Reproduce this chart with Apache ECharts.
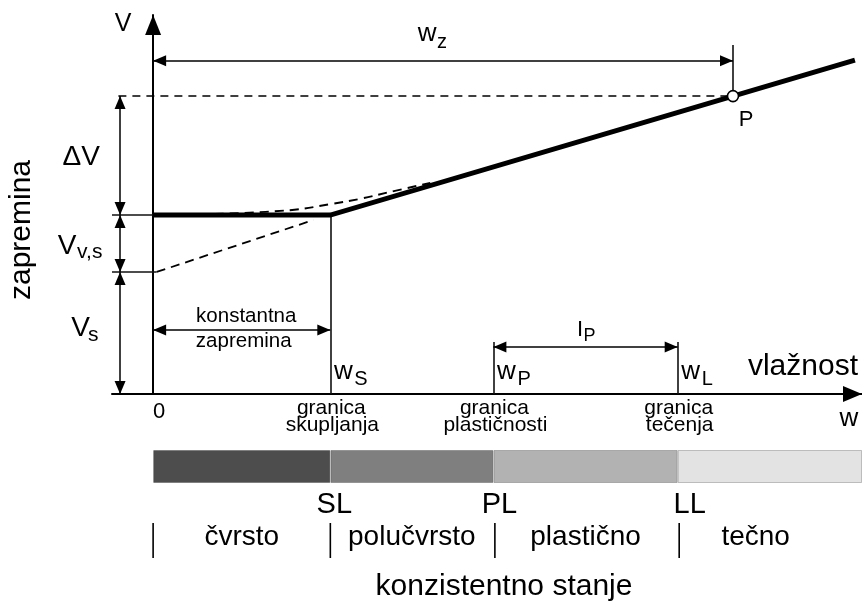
<!DOCTYPE html>
<html>
<head>
<meta charset="utf-8">
<script src="https://cdn.jsdelivr.net/npm/echarts@6/dist/echarts.min.js"></script>
<style>
html, body { margin: 0; padding: 0; background: #fff; }
#chart { width: 862px; height: 609px; }
</style>
</head>
<body>
<div id="chart"></div>
<script>
// water content limits on the w axis (% units)
const limitW = [25, 48, 74];            // w_S, w_P, w_L
const limitSub = ['S', 'P', 'L'];
const limitCodes = ['SL', 'PL', 'LL'];
const limitNames = [['granica', 'skupljanja'], ['granica', 'plastičnosti'], ['granica', 'tečenja']];
const zoneNames = ['čvrsto', 'polučvrsto', 'plastično', 'tečno'];
const zoneColors = ['#4d4d4d', '#7f7f7f', '#b2b2b2', '#e3e3e3'];
const wZ = 81.8;        // w_z, water content at point P
const wMin = -5.8;
const wMax = 100;

// volumes
const volSolid = 32.2;  // V_s
const volVoid = 15.0;   // V_v,s
const volDelta = 31.4;  // ΔV

// end of the straight shrinkage line
const lineEndW = 99;
const lineEndV = 88.1;
// rounded (real) curve near w_S, dashed
const roundW = [8.7, 19.3, 25, 29.2, 33.4, 39.1];
const roundV = [47.5, 48.5, 50.1, 51.5, 53.3, 55.7];
// back extension of the straight part, dashed
const extW = [0.5, 22.6];
const extV = [volSolid, 45.9];

const FONT = '"Liberation Sans", Arial, sans-serif';
const vC = volSolid + volVoid;
const vP = vC + volDelta;

let chart = echarts.init(document.getElementById('chart'));

const hidden = { show: false };
function thin(a, b) { return [{ coord: a }, { coord: b }]; }

let option = {
    animation: false,
    grid: [
        { left: 112, right: 0, top: 15, bottom: 215 },
        { left: 112, right: 0, top: 450, height: 33 }
    ],
    xAxis: [
        {
            gridIndex: 0, type: 'value', min: wMin, max: wMax,
            axisLine: {
                show: true, onZero: true,
                symbol: ['none', 'triangle'], symbolSize: [16, 19], symbolOffset: [0, -9.5],
                lineStyle: { color: '#000', width: 2 }
            },
            axisTick: hidden, axisLabel: hidden, splitLine: hidden
        },
        { gridIndex: 1, type: 'value', min: wMin, max: wMax, show: false }
    ],
    yAxis: [
        {
            gridIndex: 0, type: 'value', min: 0, max: 100,
            axisLine: {
                show: true, onZero: true,
                symbol: ['none', 'triangle'], symbolSize: [16, 20], symbolOffset: [0, -10],
                lineStyle: { color: '#000', width: 2 }
            },
            axisTick: hidden, axisLabel: hidden, splitLine: hidden
        },
        { gridIndex: 1, type: 'category', data: ['stanje'], show: false }
    ],
    series: [
        {
            name: 'kriva', type: 'line', silent: true, clip: false, z: 5,
            data: [[0, vC], [limitW[0], vC], [lineEndW, lineEndV]],
            symbol: 'none',
            lineStyle: { color: '#000', width: 5, join: 'miter' }
        },
        {
            name: 'zaobljeno', type: 'line', silent: true, z: 4, smooth: 0.4,
            data: roundW.map((w, i) => [w, roundV[i]]),
            symbol: 'none',
            lineStyle: { color: '#000', width: 1.9, type: [9, 6] }
        },
        {
            name: 'produzetak', type: 'line', silent: true, z: 4,
            data: extW.map((w, i) => [w, extV[i]]),
            symbol: 'none',
            lineStyle: { color: '#000', width: 1.8, type: [9, 6] }
        },
        {
            name: 'pomocne', type: 'scatter', silent: true, clip: false,
            data: [], symbolSize: 0,
            markLine: {
                silent: true, symbol: ['none', 'none'], label: hidden,
                lineStyle: { color: '#111', width: 1.6, type: 'solid' },
                data: [
                    thin([limitW[0], 0], [limitW[0], vC]),
                    thin([limitW[1], 0], [limitW[1], 13.7]),
                    thin([limitW[2], 0], [limitW[2], 13.7]),
                    thin([wZ, vP], [wZ, 92.1]),
                    thin([wMin, vC], [0, vC]),
                    thin([wMin, volSolid], [0.5, volSolid])
                ]
            }
        },
        {
            name: 'isprekidana', type: 'scatter', silent: true, clip: false,
            data: [], symbolSize: 0,
            markLine: {
                silent: true, symbol: ['none', 'none'], label: hidden,
                lineStyle: { color: '#000', width: 1.5, type: [8, 6] },
                data: [thin([-4.9, vP], [wZ, vP])]
            }
        },
        {
            name: 'kote', type: 'scatter', silent: true, clip: false,
            data: [], symbolSize: 0,
            markLine: {
                silent: true, label: hidden,
                symbol: ['triangle', 'triangle'], symbolSize: [11, 13],
                symbolOffset: [[0, 6.5], [0, 6.5]],
                lineStyle: { color: '#000', width: 1.5, type: 'solid' },
                itemStyle: { color: '#000' },
                data: [
                    thin([0, 87.9], [wZ, 87.9]),
                    thin([-4.66, vC], [-4.66, vP]),
                    thin([-4.66, volSolid], [-4.66, vC]),
                    thin([-4.66, 0], [-4.66, volSolid]),
                    thin([0, 16.9], [limitW[0], 16.9]),
                    thin([limitW[1], 12.4], [limitW[2], 12.4])
                ]
            }
        },
        {
            name: 'P', type: 'scatter', silent: true, z: 10,
            data: [[wZ, vP]],
            symbol: 'circle', symbolSize: 11,
            itemStyle: { color: '#fff', borderColor: '#000', borderWidth: 1.6, opacity: 1 }
        }
    ]
};

// consistency bar: one stacked segment per state
const zoneEdges = [0].concat(limitW, [wMax]);
zoneNames.forEach(function (name, i) {
    option.series.push({
        name: name, type: 'bar', silent: true, stack: 'stanje',
        xAxisIndex: 1, yAxisIndex: 1,
        barWidth: '100%',
        data: [zoneEdges[i + 1] - zoneEdges[i]],
        itemStyle: { color: zoneColors[i], borderColor: 'rgba(0,0,0,0.22)', borderWidth: 1 }
    });
});

chart.setOption(option);

// texts, placed from the data positions
function t(text, x, y, size, align, rot) {
    return {
        type: 'text', x: x, y: y, rotation: rot || 0, silent: true, z: 20,
        style: {
            text: text, fill: '#000', fontSize: size, fontFamily: FONT,
            align: align || 'center', verticalAlign: 'middle',
            textAlign: align || 'center', textVerticalAlign: 'middle'
        }
    };
}
function ln(x1, y1, x2, y2) {
    return { type: 'line', silent: true, z: 20, shape: { x1: x1, y1: y1, x2: x2, y2: y2 }, style: { stroke: '#000', lineWidth: 1.6 } };
}
const px = (x, y) => chart.convertToPixel({ gridIndex: 0 }, [x, y]);

const O = px(0, 0);
const topY = px(0, 100)[1];
const yC = px(0, vC)[1], yS = px(0, volSolid)[1], yP = px(0, vP)[1];
let g = [];
g.push(t('V', O[0] - 30, topY + 9, 25));
g.push(t('ΔV', O[0] - 72, (yC + yP) / 2 + 1.5, 28));
const mVv = (yS + yC) / 2;
g.push(t('V', O[0] - 86, mVv + 3, 28));
g.push(t('v,s', O[0] - 76, mVv + 9, 21, 'left'));
const mVs = (O[1] + yS) / 2;
g.push(t('V', O[0] - 72.5, mVs - 5, 28));
g.push(t('s', O[0] - 65, mVs + 2.5, 21, 'left'));
g.push(t('zapremina', 21.5, O[1] - 164, 30, 'center', Math.PI / 2));

// w_z
const pz = px(wZ, 87.9);
const midZ = (O[0] + pz[0]) / 2;
g.push(t('w', midZ - 16, pz[1] - 27, 26));
g.push(t('z', midZ - 6, pz[1] - 18, 20, 'left'));
// P
const pP = px(wZ, vP);
g.push(t('P', pP[0] + 13, pP[1] + 24, 22));
// konstantna zapremina
const pk = px(limitW[0], 16.9);
const midK = (O[0] + pk[0]) / 2;
g.push(t('konstantna', midK + 4.5, pk[1] - 14, 20.5));
g.push(t('zapremina', midK + 2, pk[1] + 11, 20.5));
// limits on the w axis
limitW.forEach(function (w, i) {
    const lx = px(w, 0)[0];
    g.push(t('w', lx + 13, O[1] - 22, 26));
    g.push(t(limitSub[i], lx + 24, O[1] - 15, 20, 'left'));
    g.push(t(limitNames[i][0], lx + 1, O[1] + 14.5, 21));
    g.push(t(limitNames[i][1], lx + 2, O[1] + 31, 21));
});
// I_P
const pI = px(limitW[1], 12.4), pL = px(limitW[2], 12.4);
const midI = (pI[0] + pL[0]) / 2;
g.push(t('I', midI - 5.5, pI[1] - 17, 22));
g.push(t('P', midI - 2, pI[1] - 11, 18, 'left'));
// axis names
g.push(t('vlažnost', 858, O[1] - 27, 30, 'right'));
g.push(t('w', 849, O[1] + 25, 26));
g.push(t('0', O[0] + 6, O[1] + 18, 22));

// below the bar
const barBottom = 483;
const codeShift = [4, 6, 12];
limitW.forEach(function (w, i) {
    g.push(t(limitCodes[i], px(w, 0)[0] + codeShift[i], barBottom + 22, 29));
});
[0].concat(limitW).forEach(function (w, i) {
    const sx = px(w, 0)[0] + (i > 1 ? 1.5 : 0);
    g.push(ln(sx, barBottom + 40, sx, barBottom + 75));
});
const zoneMid = [0].concat(limitW, [96]);
zoneNames.forEach(function (name, i) {
    g.push(t(name, px((zoneMid[i] + zoneMid[i + 1]) / 2, 0)[0], barBottom + 54, 28));
});
g.push(t('konzistentno stanje', px(49.5, 0)[0], barBottom + 104, 30));

chart.setOption({ graphic: g });

window.addEventListener('resize', function () {
    chart.resize();
});
</script>
</body>
</html>
